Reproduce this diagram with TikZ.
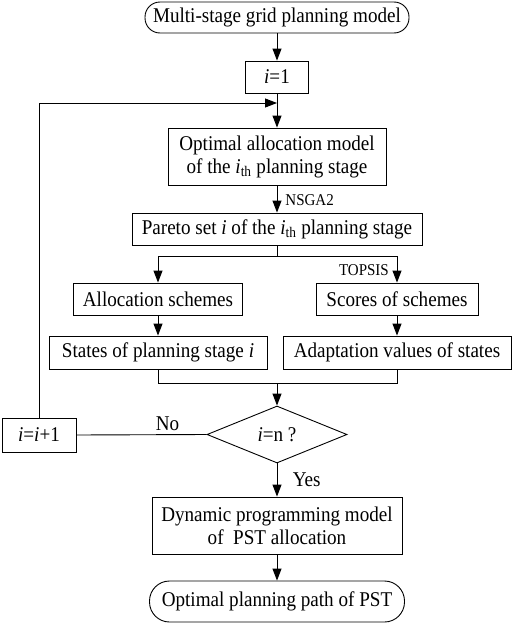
\documentclass[tikz,border=0pt]{standalone}
\usepackage{fontspec}
\setmainfont{Liberation Serif}[FakeStretch=0.91]
\usetikzlibrary{arrows.meta,shapes.geometric}
\begin{document}
\begin{tikzpicture}[x=1pt,y=-1pt,
  every node/.style={font=\fontsize{21}{23}\selectfont},
  box/.style={draw,line width=0.9pt,inner sep=0pt,align=center},
  term/.style={box,rounded corners=15pt},
  dec/.style={draw,line width=0.9pt,diamond,inner sep=0pt,minimum width=140pt,minimum height=57pt},
  lbl/.style={font=\fontsize{16.5}{18}\selectfont,inner sep=1pt},
  line/.style={line width=0.9pt},
  arr/.style={line,-{Triangle[length=12pt,width=9pt]}}]
\useasboundingbox (0,0) rectangle (512,624);
\node[term,minimum width=264pt,minimum height=31pt] (start) at (277,17.5) {Multi-stage grid planning model};
\node[box,minimum width=63pt,minimum height=32pt] (i1) at (277,77) {\textit{i}=1};
\node[box,minimum width=218pt,minimum height=57pt] (opt) at (277,156.5) {Optimal allocation model\\of the \textit{i}\textsubscript{th} planning stage};
\node[box,minimum width=290pt,minimum height=32pt] (pareto) at (277,229) {Pareto set \textit{i} of the \textit{i}\textsubscript{th} planning stage};
\node[box,minimum width=169pt,minimum height=32pt] (alloc) at (158,299) {Allocation schemes};
\node[box,minimum width=162pt,minimum height=32pt] (scores) at (397,299) {Scores of schemes};
\node[box,minimum width=218pt,minimum height=33pt] (states) at (158,352.5) {States of planning stage \textit{i}};
\node[box,minimum width=228pt,minimum height=33pt] (adapt) at (397,352.5) {Adaptation values of states};
\node[dec] (dec) at (277,434.5) {\textit{i}=n ?};
\node[box,minimum width=74pt,minimum height=34pt] (inc) at (39,435) {\textit{i}=\textit{i}+1};
\node[box,minimum width=250pt,minimum height=57pt] (dyn) at (277,525.5) {Dynamic programming model\\of \ PST allocation};
\node[term,minimum width=255pt,minimum height=41pt,rounded corners=20pt] (end) at (277,601.5) {Optimal planning path of PST};
\coordinate (merge) at (277,103);
\coordinate (split) at (277,256);
\coordinate (join) at (277,383);
\coordinate (loopc) at (39,103);
\draw[arr] (start) -- (i1);
\draw[arr] (i1) -- (opt);
\draw[arr] (opt) -- node[lbl,right,pos=0.55,xshift=7pt] (nsga) {NSGA2} (pareto);
\draw[line] (pareto) -- (split);
\draw[arr] (split) -| (alloc.north);
\draw[arr] (split) -| (scores.north);
\node[lbl,anchor=east] (topsis) at (390,270) {TOPSIS};
\draw[arr] (alloc) -- (states);
\draw[arr] (scores) -- (adapt);
\draw[line] (states.south) |- (join);
\draw[line] (adapt.south) |- (join);
\draw[arr] (join) -- (dec);
\draw[line] (dec.west) -- node[above,pos=0.3] (no) {No} (inc.east);
\draw[line] (inc.north) -- (loopc);
\draw[arr] (loopc) -- (merge);
\draw[arr] (dec.south) -- node[right,pos=0.5,xshift=12pt] (yes) {Yes} (dyn.north);
\draw[arr] (dyn) -- (end);
\end{tikzpicture}
\end{document}
